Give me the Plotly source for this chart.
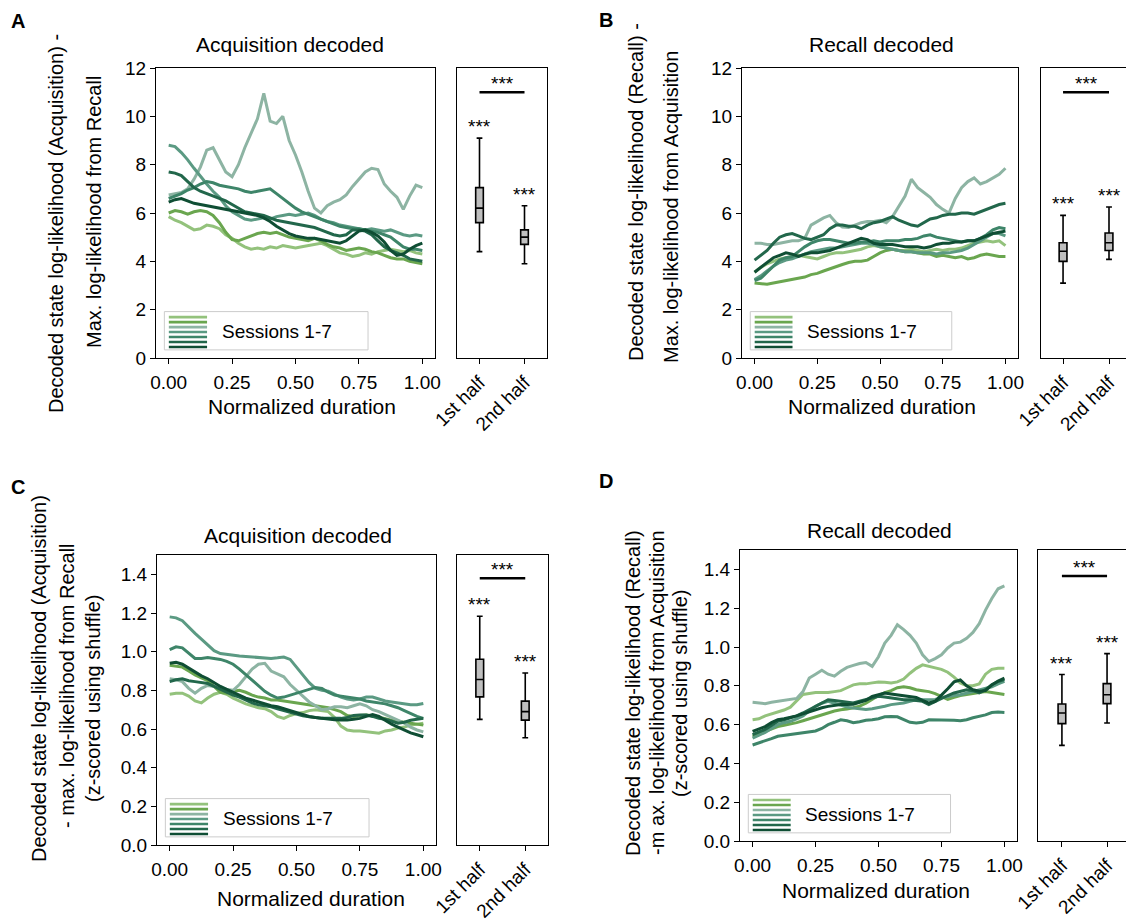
import plotly.graph_objects as go

W, H = 1126, 920
FONT = "Liberation Sans, Arial, Helvetica, sans-serif"

# ---------------- data ----------------
x_norm = [0.0, 0.025, 0.05, 0.075, 0.1, 0.125, 0.15, 0.175, 0.2, 0.225, 0.25, 0.275, 0.3, 0.325,
          0.35, 0.375, 0.4, 0.425, 0.45, 0.475, 0.5, 0.525, 0.55, 0.575, 0.6, 0.625, 0.65, 0.675,
          0.7, 0.725, 0.75, 0.775, 0.8, 0.825, 0.85, 0.875, 0.9, 0.925, 0.95, 0.975, 1.0]

session_names = ["Session 1", "Session 2", "Session 3", "Session 4", "Session 5", "Session 6", "Session 7"]
session_colors = ["#93c27c", "#6aa64f", "#8db4a3", "#5b9a83", "#3e8569", "#22674b", "#0f4e34"]

# Panel A: Acquisition decoded (raw)
a_s1 = [5.85,5.7,5.6,5.45,5.3,5.35,5.5,5.45,5.35,5.1,4.95,4.75,4.6,4.5,4.55,4.5,4.6,4.55,4.65,4.6,4.55,4.6,4.65,4.7,4.75,4.65,4.5,4.35,4.3,4.2,4.25,4.35,4.3,4.4,4.45,4.5,4.45,4.4,4.45,4.35,4.3]
a_s2 = [6.0,6.1,6.05,5.95,6.05,6.1,6.05,5.9,5.6,5.2,4.9,4.85,4.95,5.05,5.15,5.2,5.15,5.2,5.1,5.0,4.95,4.9,4.85,4.95,4.85,4.7,4.6,4.55,4.45,4.5,4.55,4.5,4.4,4.35,4.25,4.15,4.1,4.1,4.0,3.95,3.9]
a_s3 = [6.75,6.8,6.85,7.0,7.4,7.9,8.6,8.7,8.2,7.7,7.5,8.0,8.7,9.3,9.9,10.95,9.8,9.7,10.0,9.0,8.4,7.7,6.9,6.2,6.0,6.3,6.45,6.55,6.75,7.1,7.4,7.7,7.85,7.8,7.2,6.9,6.65,6.15,6.7,7.15,7.05]
a_s4 = [8.8,8.75,8.5,8.2,7.85,7.5,7.2,6.9,6.65,6.3,6.05,5.9,5.75,5.7,5.75,5.8,5.75,5.85,5.9,5.95,5.9,5.95,6.0,5.9,5.75,5.65,5.6,5.5,5.45,5.4,5.35,5.3,5.35,5.3,5.25,5.3,5.2,5.1,5.05,5.1,5.05]
a_s5 = [6.6,6.7,6.8,6.95,7.05,7.2,7.3,7.25,7.15,7.1,7.05,7.0,6.9,6.85,6.9,6.95,7.0,6.8,6.6,6.4,6.2,6.05,5.95,5.85,5.75,5.65,5.55,5.45,5.4,5.35,5.35,5.3,5.25,5.2,5.1,5.0,4.8,4.6,4.5,4.5,4.45]
a_s6 = [7.7,7.65,7.55,7.3,7.05,6.9,6.8,6.7,6.6,6.5,6.35,6.2,6.05,6.0,5.95,5.9,5.8,5.7,5.65,5.6,5.55,5.5,5.45,5.4,5.3,5.2,5.1,5.05,5.1,5.3,5.3,5.25,5.1,4.85,4.6,4.45,4.35,4.25,4.1,4.05,4.0]
a_s7 = [6.45,6.55,6.6,6.5,6.4,6.35,6.3,6.25,6.2,6.15,6.1,6.05,6.0,5.95,5.9,5.8,5.65,5.45,5.3,5.15,5.05,5.0,4.95,4.95,4.9,4.85,4.8,4.75,4.85,5.05,5.25,5.3,5.2,5.05,4.8,4.45,4.25,4.3,4.5,4.65,4.75]

# Panel B: Recall decoded (raw)
b_s1 = [3.55,3.75,3.9,4.0,4.1,4.15,4.2,4.25,4.2,4.15,4.1,4.2,4.3,4.35,4.35,4.4,4.45,4.5,4.6,4.65,4.6,4.55,4.5,4.45,4.45,4.5,4.45,4.4,4.45,4.5,4.45,4.5,4.5,4.55,4.65,4.75,4.8,4.85,4.8,4.85,4.65]
b_s2 = [3.1,3.08,3.05,3.1,3.15,3.2,3.25,3.3,3.35,3.45,3.5,3.6,3.7,3.8,3.87,3.95,4.0,4.0,4.05,4.2,4.35,4.45,4.5,4.45,4.4,4.4,4.35,4.3,4.3,4.2,4.25,4.2,4.15,4.2,4.1,4.15,4.25,4.3,4.25,4.2,4.2]
b_s3 = [4.75,4.75,4.7,4.7,4.75,4.8,4.85,4.85,4.95,5.5,5.65,5.8,5.9,5.6,5.42,5.4,5.5,5.6,5.65,5.65,5.7,5.6,5.85,6.3,6.7,7.4,7.05,6.85,6.65,6.35,6.15,6.0,6.6,7.05,7.3,7.45,7.2,7.3,7.45,7.6,7.85]
b_s4 = [3.25,3.4,3.6,3.8,3.95,4.05,4.1,4.2,4.3,4.4,4.45,4.5,4.55,4.55,4.6,4.65,4.7,4.75,4.75,4.7,4.6,4.55,4.5,4.45,4.4,4.4,4.35,4.35,4.35,4.3,4.35,4.35,4.4,4.45,4.55,4.7,4.85,5.0,5.15,5.15,5.05]
b_s5 = [3.2,3.3,3.55,3.8,4.05,4.15,4.2,4.4,4.6,4.75,4.85,4.9,4.9,4.85,4.8,4.75,4.75,4.8,4.8,4.85,4.8,4.85,4.85,4.85,4.9,4.9,4.95,5.05,5.1,5.0,4.95,4.9,4.85,4.8,4.85,4.85,4.95,5.1,5.3,5.4,5.35]
b_s6 = [4.05,4.25,4.45,4.75,5.0,5.1,5.15,5.05,4.95,4.9,5.0,5.1,5.35,5.5,5.5,5.45,5.45,5.35,5.5,5.6,5.65,5.75,5.85,5.7,5.6,5.5,5.45,5.6,5.75,5.8,5.9,5.95,5.95,6.0,6.0,5.95,6.05,6.15,6.25,6.35,6.4]
b_s7 = [3.55,3.75,3.95,4.15,4.25,4.35,4.3,4.2,4.3,4.35,4.35,4.4,4.45,4.55,4.65,4.75,4.85,4.95,4.9,4.75,4.7,4.7,4.7,4.65,4.6,4.6,4.6,4.55,4.6,4.7,4.75,4.75,4.8,4.8,4.85,4.85,4.95,5.05,5.15,5.2,5.25]

# Panel C: Acquisition decoded (z-scored)
c_s1 = [0.78,0.785,0.785,0.77,0.745,0.735,0.76,0.78,0.79,0.78,0.76,0.745,0.73,0.72,0.71,0.705,0.69,0.665,0.655,0.67,0.68,0.685,0.695,0.7,0.695,0.69,0.66,0.615,0.595,0.59,0.59,0.585,0.58,0.578,0.59,0.595,0.605,0.61,0.62,0.625,0.63]
c_s2 = [0.93,0.925,0.92,0.9,0.88,0.865,0.85,0.82,0.79,0.785,0.795,0.8,0.79,0.775,0.765,0.76,0.75,0.75,0.745,0.74,0.735,0.73,0.725,0.72,0.715,0.71,0.7,0.69,0.67,0.665,0.67,0.672,0.668,0.66,0.65,0.645,0.64,0.635,0.63,0.625,0.62]
c_s3 = [0.86,0.855,0.845,0.81,0.785,0.81,0.825,0.82,0.815,0.805,0.8,0.83,0.87,0.91,0.935,0.94,0.9,0.885,0.87,0.83,0.8,0.77,0.74,0.72,0.7,0.705,0.715,0.715,0.71,0.72,0.73,0.72,0.7,0.69,0.675,0.66,0.645,0.63,0.61,0.595,0.585]
c_s4 = [1.18,1.175,1.16,1.125,1.095,1.065,1.035,1.005,0.99,0.985,0.98,0.978,0.975,0.972,0.968,0.965,0.965,0.968,0.972,0.96,0.92,0.885,0.84,0.81,0.8,0.795,0.78,0.765,0.755,0.75,0.755,0.765,0.765,0.755,0.745,0.74,0.735,0.73,0.725,0.725,0.732]
c_s5 = [1.01,1.025,1.02,0.99,0.965,0.965,0.97,0.965,0.96,0.95,0.935,0.91,0.88,0.85,0.82,0.795,0.775,0.76,0.765,0.775,0.785,0.795,0.805,0.815,0.81,0.79,0.775,0.77,0.765,0.76,0.755,0.745,0.74,0.735,0.73,0.72,0.71,0.695,0.68,0.665,0.655]
c_s6 = [0.845,0.855,0.86,0.85,0.845,0.84,0.835,0.82,0.805,0.79,0.775,0.765,0.75,0.735,0.725,0.72,0.715,0.705,0.695,0.685,0.675,0.668,0.663,0.658,0.655,0.655,0.655,0.655,0.66,0.67,0.672,0.672,0.665,0.655,0.65,0.64,0.63,0.635,0.645,0.65,0.655]
c_s7 = [0.94,0.945,0.935,0.915,0.895,0.875,0.86,0.84,0.82,0.805,0.79,0.775,0.76,0.75,0.74,0.73,0.72,0.715,0.705,0.695,0.685,0.675,0.665,0.66,0.655,0.65,0.648,0.646,0.646,0.65,0.655,0.665,0.675,0.665,0.645,0.625,0.61,0.595,0.58,0.57,0.56]

# Panel D: Recall decoded (z-scored)
d_s1 = [0.625,0.63,0.645,0.655,0.665,0.675,0.69,0.72,0.755,0.76,0.765,0.765,0.765,0.77,0.775,0.79,0.805,0.81,0.81,0.815,0.82,0.818,0.815,0.82,0.835,0.865,0.89,0.908,0.9,0.895,0.885,0.87,0.845,0.815,0.8,0.8,0.81,0.86,0.885,0.89,0.89]
d_s2 = [0.54,0.55,0.565,0.578,0.59,0.597,0.603,0.61,0.62,0.63,0.642,0.65,0.66,0.67,0.677,0.68,0.687,0.695,0.71,0.73,0.75,0.765,0.775,0.79,0.795,0.79,0.78,0.775,0.77,0.76,0.745,0.73,0.74,0.75,0.755,0.76,0.765,0.77,0.765,0.76,0.755]
d_s3 = [0.715,0.71,0.708,0.715,0.72,0.728,0.732,0.735,0.77,0.84,0.86,0.88,0.86,0.85,0.875,0.895,0.905,0.915,0.92,0.9,0.95,1.02,1.06,1.115,1.09,1.06,1.02,0.96,0.925,0.94,0.96,0.995,1.02,1.025,1.045,1.075,1.12,1.19,1.25,1.3,1.315]
d_s4 = [0.53,0.545,0.56,0.58,0.6,0.61,0.617,0.63,0.645,0.67,0.694,0.71,0.72,0.71,0.7,0.69,0.685,0.68,0.678,0.682,0.687,0.695,0.703,0.707,0.711,0.72,0.728,0.728,0.728,0.73,0.738,0.746,0.75,0.754,0.762,0.771,0.778,0.785,0.795,0.81,0.823]
d_s5 = [0.495,0.505,0.515,0.528,0.54,0.545,0.55,0.553,0.558,0.562,0.567,0.58,0.6,0.612,0.625,0.62,0.61,0.615,0.622,0.625,0.63,0.64,0.642,0.64,0.625,0.612,0.608,0.612,0.625,0.625,0.624,0.622,0.622,0.62,0.625,0.635,0.642,0.65,0.662,0.665,0.663]
d_s6 = [0.548,0.56,0.575,0.595,0.617,0.625,0.634,0.645,0.66,0.678,0.694,0.712,0.728,0.724,0.72,0.715,0.711,0.72,0.728,0.737,0.746,0.742,0.737,0.733,0.728,0.728,0.725,0.72,0.703,0.72,0.737,0.75,0.763,0.772,0.78,0.775,0.763,0.78,0.805,0.822,0.832]
d_s7 = [0.565,0.578,0.59,0.61,0.625,0.63,0.636,0.645,0.655,0.666,0.677,0.687,0.694,0.7,0.703,0.703,0.705,0.715,0.725,0.745,0.755,0.763,0.758,0.754,0.75,0.746,0.74,0.725,0.711,0.72,0.75,0.785,0.82,0.83,0.8,0.78,0.772,0.775,0.805,0.825,0.84]

# Box statistics: [lower whisker, Q1, median, Q3, upper whisker]
half_labels = ["1st half", "2nd half"]
half_pos = [1, 2]
box_a_1st = [4.4, 5.6, 6.2, 7.05, 9.1]
box_a_2nd = [3.9, 4.7, 5.0, 5.3, 6.3]
box_b_1st = [3.1, 4.0, 4.42, 4.77, 5.9]
box_b_2nd = [4.08, 4.45, 4.77, 5.17, 6.25]
box_c_1st = [0.65, 0.766, 0.856, 0.961, 1.183]
box_c_2nd = [0.555, 0.646, 0.69, 0.744, 0.89]
box_d_1st = [0.493, 0.605, 0.66, 0.706, 0.858]
box_d_2nd = [0.608, 0.708, 0.754, 0.811, 0.966]
sig_bar_y = [11.0, 11.0, 1.38, 1.366]
sig_text = "***"

ytick_raw = [0, 2, 4, 6, 8, 10, 12]
ytick_z = [0.0, 0.2, 0.4, 0.6, 0.8, 1.0, 1.2, 1.4]
xtick_line = [0.0, 0.25, 0.5, 0.75, 1.0]

panel_letters = ["A", "B", "C", "D"]
panel_titles = ["Acquisition decoded", "Recall decoded", "Acquisition decoded", "Recall decoded"]
xlabel = "Normalized duration"
legend_text = "Sessions 1-7"
ylabel_a = ["Decoded state log-likelihood (Acquisition) -", "Max. log-likelihood from Recall"]
ylabel_b = ["Decoded state log-likelihood (Recall) -", "Max. log-likelihood from Acquisition"]
ylabel_c = ["Decoded state log-likelihood (Acquisition)", "- max. log-likelihood from Recall", "(z-scored using shuffle)"]
ylabel_d = ["Decoded state log-likelihood (Recall)", "-m ax. log-likelihood from Acquisition", "(z-scored using shuffle)"]

# ---------------- layout geometry (pixels) ----------------
panels = [
    dict(series=[a_s1, a_s2, a_s3, a_s4, a_s5, a_s6, a_s7], boxes=[box_a_1st, box_a_2nd],
         line_px=(156, 435), box_px=(457, 547), y_px=(68, 358), yrange=[0, 12], yticks=ytick_raw,
         yfmt="d", box_xr=[0.5, 2.5], box_right=True, letter=(18, 21), title=(290, 45),
         xlab=(302, 407), ylab=ylabel_a, ylab_pos=[(56, 224), (94, 212)]),
    dict(series=[b_s1, b_s2, b_s3, b_s4, b_s5, b_s6, b_s7], boxes=[box_b_1st, box_b_2nd],
         line_px=(742, 1018), box_px=(1041, 1126), y_px=(68, 358), yrange=[0, 12], yticks=ytick_raw,
         yfmt="d", box_xr=[0.52, 2.37], box_right=False, letter=(606, 20), title=(881, 45),
         xlab=(882, 407), ylab=ylabel_b, ylab_pos=[(636, 192), (671, 207)]),
    dict(series=[c_s1, c_s2, c_s3, c_s4, c_s5, c_s6, c_s7], boxes=[box_c_1st, box_c_2nd],
         line_px=(157, 436), box_px=(457, 548), y_px=(555, 845), yrange=[0, 1.5], yticks=ytick_z,
         yfmt=".1f", box_xr=[0.5, 2.5], box_right=True, letter=(18, 487), title=(298, 535),
         xlab=(311, 898), ylab=ylabel_c, ylab_pos=[(39, 679), (67, 686), (93, 698)]),
    dict(series=[d_s1, d_s2, d_s3, d_s4, d_s5, d_s6, d_s7], boxes=[box_d_1st, box_d_2nd],
         line_px=(740, 1017), box_px=(1038, 1126), y_px=(550, 841), yrange=[0, 1.5], yticks=ytick_z,
         yfmt=".1f", box_xr=[0.47, 2.42], box_right=False, letter=(606, 481), title=(879, 530),
         xlab=(876, 890), ylab=ylabel_d, ylab_pos=[(633, 693), (657, 693), (680, 693)]),
]

TICK_FONT = dict(family=FONT, size=19, color="black")
LABEL_SIZE = 20
TITLE_SIZE = 21


def px_x(p):
    return p / W


def px_y(p):
    return 1 - p / H


def paper_text(x, y, text, size=LABEL_SIZE, angle=0):
    return dict(x=px_x(x), y=px_y(y), xref="paper", yref="paper", text=text, textangle=angle,
                showarrow=False, xanchor="center", yanchor="middle",
                font=dict(family=FONT, size=size, color="black"))


fig = go.Figure()
layout = dict(template="none", width=W, height=H, margin=dict(l=0, r=0, t=0, b=0, pad=0),
              autosize=False, paper_bgcolor="white", plot_bgcolor="white", showlegend=False,
              font=dict(family=FONT, color="black"))
annotations = []
shapes = []

for i, p in enumerate(panels):
    li, bi = 2 * i + 1, 2 * i + 2
    lx = "x" if li == 1 else f"x{li}"
    ly = "y" if li == 1 else f"y{li}"
    bx, by = f"x{bi}", f"y{bi}"
    ydom = [px_y(p["y_px"][1]), px_y(p["y_px"][0])]

    common = dict(showgrid=False, zeroline=False, showline=True, linecolor="black", linewidth=1.2,
                  ticks="outside", ticklen=5, tickwidth=1.2, tickcolor="black", tickfont=TICK_FONT,
                  automargin=False)
    layout["xaxis" + ("" if li == 1 else str(li))] = dict(
        domain=[px_x(p["line_px"][0]), px_x(p["line_px"][1])], anchor=ly, range=[-0.05, 1.05],
        tickvals=xtick_line, tickformat=".2f", mirror=True, ticklabelstandoff=2, **common)
    layout["yaxis" + ("" if li == 1 else str(li))] = dict(
        domain=ydom, anchor=lx, range=p["yrange"], tickvals=p["yticks"], tickformat=p["yfmt"],
        mirror=True, **common)
    layout[f"xaxis{bi}"] = dict(
        domain=[px_x(p["box_px"][0]), min(1.0, px_x(p["box_px"][1]))], anchor=by, range=p["box_xr"],
        tickvals=half_pos, ticktext=half_labels, tickangle=-45, mirror=True, **common)
    ybox = dict(common)
    ybox.update(ticks="", showticklabels=False)
    layout[f"yaxis{bi}"] = dict(domain=ydom, anchor=bx, range=p["yrange"],
                                mirror=p["box_right"], **ybox)

    # session lines
    for s, vals in enumerate(p["series"]):
        fig.add_trace(go.Scatter(x=x_norm, y=vals, mode="lines", name=session_names[s],
                                 line=dict(color=session_colors[s], width=3),
                                 xaxis=lx, yaxis=ly, hoverinfo="skip"))

    # boxes
    for k, st in enumerate(p["boxes"]):
        fig.add_trace(go.Box(x=[half_pos[k]], lowerfence=[st[0]], q1=[st[1]], median=[st[2]],
                             q3=[st[3]], upperfence=[st[4]], width=0.17, whiskerwidth=0.75,
                             fillcolor="#bfbfbf", line=dict(color="black", width=1.6),
                             boxpoints=False, xaxis=bx, yaxis=by, hoverinfo="skip"))
        annotations.append(dict(x=half_pos[k], y=st[4], xref=bx, yref=by, text=sig_text,
                                showarrow=False, xanchor="center", yanchor="bottom", yshift=-1,
                                font=dict(family=FONT, size=19, color="black")))
    # significance bar
    shapes.append(dict(type="line", xref=bx, yref=by, x0=half_pos[0], x1=half_pos[1],
                       y0=sig_bar_y[i], y1=sig_bar_y[i], line=dict(color="black", width=2.5)))
    annotations.append(dict(x=(half_pos[0] + half_pos[1]) / 2, y=sig_bar_y[i], xref=bx, yref=by,
                            text=sig_text, showarrow=False, xanchor="center", yanchor="bottom",
                            yshift=-4, font=dict(family=FONT, size=19, color="black")))

    # legend box drawn inside the line axes
    shapes.append(dict(type="rect", xref=f"{lx} domain", yref=f"{ly} domain", x0=0.03, x1=0.76,
                       y0=0.028, y1=0.16, line=dict(color="#cccccc", width=1),
                       fillcolor="rgba(255,255,255,0.85)", layer="above"))
    for s in range(7):
        yy = 0.141 - s * 0.0172
        shapes.append(dict(type="line", xref=f"{lx} domain", yref=f"{ly} domain", x0=0.046, x1=0.183,
                           y0=yy, y1=yy, line=dict(color=session_colors[s], width=2.6), layer="above"))
    annotations.append(dict(x=0.228, y=0.092, xref=f"{lx} domain", yref=f"{ly} domain",
                            text=legend_text, showarrow=False, xanchor="left", yanchor="middle",
                            font=dict(family=FONT, size=19, color="black")))

    # texts
    annotations.append(paper_text(p["letter"][0], p["letter"][1], "<b>" + panel_letters[i] + "</b>", 20))
    annotations.append(paper_text(p["title"][0], p["title"][1], panel_titles[i], TITLE_SIZE))
    annotations.append(paper_text(p["xlab"][0], p["xlab"][1], xlabel, TITLE_SIZE))
    for t, (tx, ty) in zip(p["ylab"], p["ylab_pos"]):
        annotations.append(paper_text(tx, ty, t, LABEL_SIZE, -90))

layout["annotations"] = annotations
layout["shapes"] = shapes
fig.update_layout(**layout)

fig.write_html("out.html", config={"displayModeBar": False},
               post_script="document.body.style.margin='0';")
